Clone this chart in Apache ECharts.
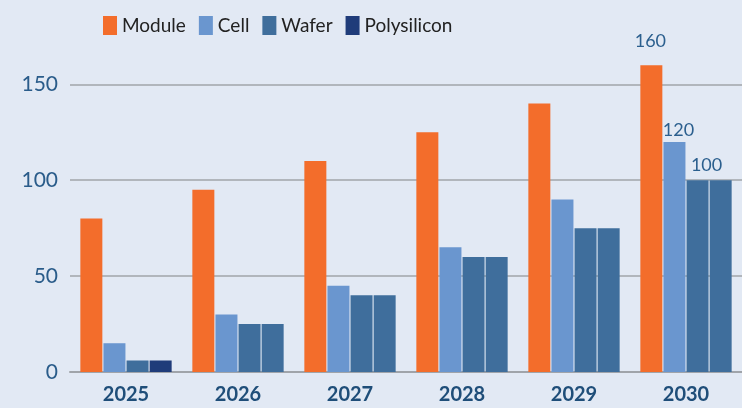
<!DOCTYPE html>
<html>
<head>
<meta charset="utf-8">
<script src="https://cdn.jsdelivr.net/npm/echarts@6/dist/echarts.min.js"></script>
<style>
html,body{margin:0;padding:0;background:#e2e9f4;}
#c{width:742px;height:408px;}
</style>
</head>
<body>
<div id="c"></div>
<script>
const years = ['2025','2026','2027','2028','2029','2030'];
const seriesNames = ['Module','Cell','Wafer','Polysilicon'];
const moduleVals = [80, 95, 110, 125, 140, 160];
const cellVals = [15, 30, 45, 65, 90, 120];
const waferVals = [6, 25, 40, 60, 75, 100];
const polyVals = [6, 25, 40, 60, 75, 100];
const yTicks = [0, 50, 100, 150];

const colors = ['#f36d2b', '#6a96cf', '#3f6e9c', '#1f3c7a'];
const labelColor = '#2b5f8e';

function withLastLabel(vals, cfg) {
  return vals.map((v, i) => {
    if (i === vals.length - 1 && cfg) {
      return { value: v, label: Object.assign({ show: true, position: 'top', color: labelColor, fontSize: 18, fontFamily: 'Lato, sans-serif' }, cfg) };
    }
    return v;
  });
}

const chart = echarts.init(document.getElementById('c'));
chart.setOption({
  backgroundColor: '#e2e9f4',
  animation: false,
  legend: {
    left: 98, top: 11,
    itemWidth: 14, itemHeight: 19, itemGap: 13,
    icon: 'rect',
    textStyle: { fontSize: 19, color: '#222', fontFamily: 'Lato, sans-serif' },
    data: seriesNames.map((n, i) => ({ name: n, itemStyle: { color: colors[i] } }))
  },
  grid: { left: 70, right: 0, top: 46, bottom: 36 },
  xAxis: {
    type: 'category', data: years,
    axisLine: { lineStyle: { color: '#a0a4aa', width: 2 } },
    axisTick: { show: false },
    axisLabel: { color: '#1f4e79', fontSize: 20, fontWeight: 'bold', fontFamily: 'Lato, sans-serif', margin: 13 }
  },
  yAxis: {
    type: 'value', min: yTicks[0], max: 170, interval: yTicks[1] - yTicks[0],
    axisLine: { show: false }, axisTick: { show: false },
    axisLabel: { color: '#2a5c8a', fontSize: 21, fontFamily: 'Lato, sans-serif', margin: 12, showMaxLabel: false,
      formatter: v => yTicks.includes(v) ? String(v) : '' },
    splitLine: { showMaxLine: false, lineStyle: { color: '#a0a4aa', width: 1.5 } }
  },
  series: [
    { name: 'Module', type: 'bar', barWidth: 22, barGap: '5%', itemStyle: { color: colors[0] },
      data: withLastLabel(moduleVals, { distance: 15, offset: [-1, 0] }) },
    { name: 'Cell', type: 'bar', barWidth: 22, barGap: '5%', itemStyle: { color: colors[1] },
      data: withLastLabel(cellVals, { distance: 3, offset: [4, 0] }) },
    { name: 'Wafer', type: 'bar', barWidth: 22, barGap: '5%', itemStyle: { color: colors[2] },
      data: withLastLabel(waferVals, { distance: 6, offset: [9, 0] }) },
    { name: 'Polysilicon', type: 'bar', barWidth: 22, barGap: '5%',
      itemStyle: { color: p => p.dataIndex === 0 ? colors[3] : colors[2] },
      data: polyVals }
  ]
});
</script>
</body>
</html>
